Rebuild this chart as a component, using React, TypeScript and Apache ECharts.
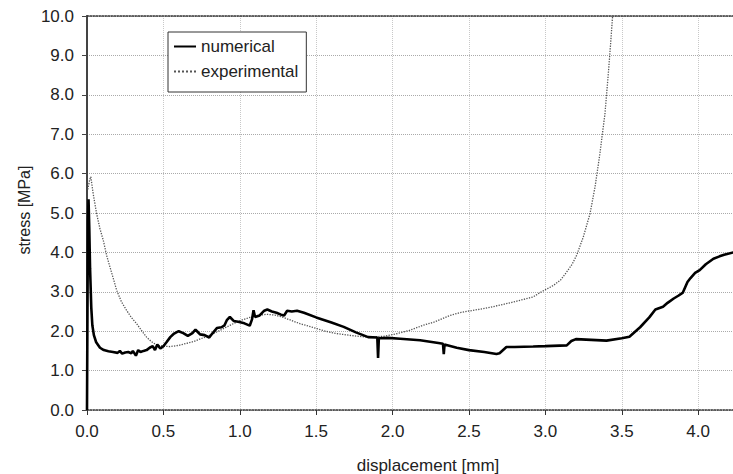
import React, { useEffect, useRef } from "react";
import * as echarts from "echarts";

const numX = [0, 0.003, 0.006, 0.01, 0.015, 0.02, 0.028, 0.035, 0.045, 0.06, 0.085, 0.11, 0.14, 0.17, 0.2, 0.215, 0.23, 0.25, 0.27, 0.29, 0.3, 0.32, 0.335, 0.35, 0.37, 0.39, 0.41, 0.43, 0.445, 0.46, 0.48, 0.5, 0.52, 0.545, 0.57, 0.6, 0.63, 0.66, 0.69, 0.71, 0.725, 0.74, 0.77, 0.8, 0.82, 0.85, 0.88, 0.9, 0.915, 0.935, 0.96, 0.99, 1.03, 1.065, 1.08, 1.09, 1.1, 1.13, 1.16, 1.18, 1.21, 1.24, 1.27, 1.29, 1.31, 1.34, 1.375, 1.42, 1.5, 1.6, 1.68, 1.76, 1.84, 1.9, 1.905, 1.91, 1.97, 2.05, 2.18, 2.3, 2.33, 2.335, 2.34, 2.42, 2.5, 2.6, 2.68, 2.7, 2.745, 2.8, 2.92, 3.0, 3.14, 3.17, 3.2, 3.3, 3.4, 3.5, 3.55, 3.62, 3.68, 3.72, 3.77, 3.8, 3.84, 3.87, 3.9, 3.93, 3.95, 3.98, 4.01, 4.05, 4.1, 4.14, 4.17, 4.23];
const numY = [0, 2.5, 4.8, 5.35, 4.6, 3.6, 2.6, 2.15, 1.9, 1.72, 1.58, 1.52, 1.49, 1.47, 1.45, 1.5, 1.43, 1.46, 1.47, 1.44, 1.5, 1.38, 1.52, 1.47, 1.5, 1.52, 1.58, 1.62, 1.52, 1.66, 1.56, 1.62, 1.72, 1.85, 1.94, 2.0, 1.95, 1.88, 1.95, 2.04, 1.98, 1.92, 1.9, 1.84, 1.94, 2.08, 2.1, 2.15, 2.28, 2.36, 2.26, 2.24, 2.2, 2.14, 2.3, 2.53, 2.36, 2.4, 2.52, 2.55, 2.5, 2.47, 2.42, 2.4, 2.52, 2.5, 2.52, 2.47, 2.35, 2.22, 2.11, 1.97, 1.85, 1.84, 1.32, 1.82, 1.83, 1.81, 1.77, 1.7, 1.68, 1.42, 1.66, 1.58, 1.52, 1.47, 1.42, 1.44, 1.6, 1.6, 1.61, 1.62, 1.64, 1.75, 1.8, 1.78, 1.76, 1.82, 1.86, 2.1, 2.35, 2.55, 2.62, 2.72, 2.83, 2.9, 2.98, 3.25, 3.35, 3.48, 3.55, 3.7, 3.84, 3.9, 3.94, 4.0];

const expX = [0.005, 0.018, 0.025, 0.04, 0.063, 0.085, 0.107, 0.13, 0.15, 0.175, 0.194, 0.225, 0.259, 0.29, 0.325, 0.36, 0.39, 0.42, 0.456, 0.5, 0.543, 0.6, 0.65, 0.7, 0.805, 0.88, 0.957, 1.01, 1.067, 1.12, 1.175, 1.23, 1.285, 1.34, 1.394, 1.45, 1.5, 1.56, 1.634, 1.73, 1.83, 1.94, 2.02, 2.11, 2.2, 2.27, 2.375, 2.45, 2.59, 2.69, 2.79, 2.92, 2.965, 3.052, 3.1, 3.139, 3.175, 3.205, 3.248, 3.292, 3.325, 3.357, 3.39, 3.412, 3.427, 3.44];
const expY = [5.6, 5.85, 5.92, 5.5, 4.98, 4.6, 4.3, 3.9, 3.63, 3.3, 3.04, 2.75, 2.53, 2.35, 2.19, 2.0, 1.85, 1.74, 1.65, 1.62, 1.61, 1.64, 1.69, 1.74, 1.9, 2.04, 2.19, 2.28, 2.35, 2.4, 2.43, 2.41, 2.35, 2.27, 2.19, 2.13, 2.07, 2.0, 1.94, 1.89, 1.85, 1.87, 1.93, 2.02, 2.15, 2.23, 2.4, 2.48, 2.57, 2.65, 2.74, 2.87, 2.98, 3.16, 3.3, 3.5, 3.7, 3.93, 4.39, 4.98, 5.66, 6.51, 7.52, 8.54, 9.3, 10.0];

const seriesNames = ["numerical", "experimental"];
const xTitle = "displacement [mm]";
const yTitle = "stress [MPa]";

const FONT = "'Liberation Sans', Arial, Helvetica, sans-serif";

export default function App() {
  const ref = useRef<HTMLDivElement>(null);
  useEffect(() => {
    if (!ref.current) return;
    const chart = echarts.init(ref.current, undefined, { renderer: "svg" });
    const numData = numX.map((x, i) => [x, numY[i]]);
    const expData = expX.map((x, i) => [x, expY[i]]);
    chart.setOption({
      animation: false,
      backgroundColor: "#fff",
      textStyle: { fontFamily: FONT },
      grid: { left: 87, right: 0, top: 16, bottom: 64, containLabel: false },
      legend: {
        orient: "vertical",
        left: 168,
        top: 32,
        backgroundColor: "#fff",
        borderColor: "#333",
        borderWidth: 1,
        borderRadius: 0,
        padding: [6, 8, 12, 5],
        itemWidth: 22,
        itemHeight: 14,
        itemGap: 8,
        itemStyle: { opacity: 0, borderWidth: 0 },
        textStyle: { fontSize: 17, color: "#222", fontFamily: FONT },
        data: seriesNames,
      },
      xAxis: [
        {
          type: "value",
          min: 0,
          max: 4.228,
          interval: 0.5,
          axisLine: { show: true, lineStyle: { color: "#333", width: 1.5, type: "dotted" } },
          axisTick: { show: true, length: 5, inside: false, lineStyle: { color: "#333" } },
          axisLabel: {
            margin: 13,
            fontSize: 17,
            color: "#222",
            fontFamily: FONT,
            formatter: (v: number) => v.toFixed(1),
            showMaxLabel: false,
          },
          splitLine: { show: true, lineStyle: { color: "#c8c8c8", type: "dotted", width: 1 } },
        },
        {
          type: "value",
          position: "top",
          min: 0,
          max: 4.228,
          interval: 0.5,
          axisLine: { show: true, onZero: false, lineStyle: { color: "#333", width: 1.5, type: "dotted" } },
          axisTick: { show: false },
          axisLabel: { show: false },
          splitLine: { show: false },
        },
      ],
      yAxis: {
        type: "value",
        min: 0,
        max: 10,
        interval: 1,
        axisLine: { show: true, lineStyle: { color: "#444", width: 2 } },
        axisTick: { show: true, length: 5, lineStyle: { color: "#444" } },
        axisLabel: {
          margin: 13,
          fontSize: 17,
          color: "#222",
          fontFamily: FONT,
          formatter: (v: number) => v.toFixed(1),
        },
        splitLine: { show: true, lineStyle: { color: "#aaa", type: "dotted", width: 1 } },
      },
      graphic: [
        {
          type: "text",
          x: 428,
          y: 465,
          style: {
            text: xTitle,
            fontSize: 17,
            fill: "#222",
            fontFamily: FONT,
            align: "center",
            verticalAlign: "middle",
          },
        },
        {
          type: "text",
          x: 24,
          y: 210,
          rotation: Math.PI / 2,
          style: {
            text: yTitle,
            fontSize: 16,
            fill: "#222",
            fontFamily: FONT,
            align: "center",
            verticalAlign: "middle",
          },
        },
      ],
      series: [
        {
          name: seriesNames[1],
          type: "line",
          data: expData,
          symbol: "none",
          smooth: false,
          lineStyle: { color: "#555", width: 1.3, type: "dotted" },
          itemStyle: { color: "#555" },
          z: 2,
        },
        {
          name: seriesNames[0],
          type: "line",
          data: numData,
          symbol: "none",
          smooth: false,
          lineStyle: { color: "#000", width: 2.6 },
          itemStyle: { color: "#000" },
          z: 3,
        },
      ],
    });
    return () => chart.dispose();
  }, []);
  return <div ref={ref} style={{ width: 733, height: 474, position: "absolute", left: 0, top: 0 }} />;
}
